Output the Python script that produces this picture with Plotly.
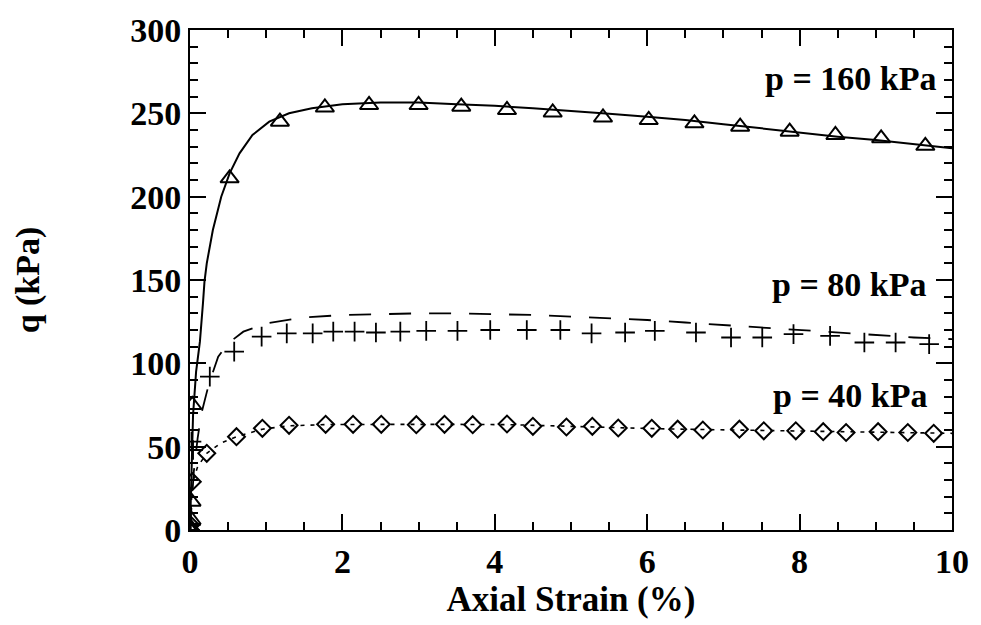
import plotly.graph_objects as go

# ---- data ----
# p = 160 kPa : measured (triangles) and model curve (solid)
tri_x = [0.0, 0.0, 0.02, 0.02, 0.03, 0.52, 1.18, 1.77, 2.35, 3.0, 3.56, 4.16, 4.76, 5.42,
         6.02, 6.62, 7.22, 7.87, 8.47, 9.07, 9.65]
tri_q = [0, 2, 6, 17, 75, 211, 245, 253.5, 255, 255, 254, 252, 250.5, 247.5,
         246, 244, 242, 239, 237, 235, 230.5]
c160_x = [0, 0.02, 0.04, 0.08, 0.13, 0.17, 0.19, 0.22, 0.3, 0.41, 0.52, 0.65, 0.82, 1.04, 1.3,
          1.6, 2.0, 2.5, 3.0, 3.5, 4.0, 4.5, 5.0, 5.5, 6.0, 6.5, 7.0, 7.5, 8.0, 8.5, 9.0, 9.5, 10.0]
c160_q = [0, 40, 69, 95, 113, 136, 149, 160, 180, 200, 214, 226, 237, 245, 250,
          253, 255.5, 256.5, 256.5, 255.5, 254.5, 253, 251.5, 249.8, 248, 246, 243.5, 241, 238.5,
          236, 234, 231.5, 229]

# p = 80 kPa : measured (plus) and model curve (dashed)
plus_x = [0.0, 0.01, 0.02, 0.04, 0.26, 0.58, 0.94, 1.27, 1.61, 1.88, 2.16, 2.44, 2.76, 3.10,
          3.51, 3.94, 4.42, 4.86, 5.27, 5.71, 6.10, 6.64, 7.10, 7.51, 7.92, 8.40, 8.85, 9.26, 9.70]
plus_q = [0, 3, 53, 48, 92, 107, 116, 118, 118, 119, 119, 118.5, 119, 119.5,
          119.5, 120, 120, 120, 118, 118.5, 119.5, 118.5, 115.5, 115.5, 117.5, 116.5, 112.5,
          112.5, 111.5]
c80_x = [0, 0.05, 0.1, 0.15, 0.25, 0.37, 0.5, 0.7, 1.0, 1.5, 2.0, 2.5, 3.0, 3.5, 4.0, 4.5,
         5.0, 5.5, 6.0, 6.5, 7.0, 7.5, 8.0, 8.5, 9.0, 9.5, 10.0]
c80_q = [0, 35, 55, 70, 88, 104, 112, 119, 124, 127.5, 129, 129.5, 130, 130, 129.5, 129,
         128, 127, 126, 124.5, 123, 121.5, 120, 118.5, 117, 115.5, 114.5]

# p = 40 kPa : measured (diamonds) and model curve (dotted)
dia_x = [0.0, 0.01, 0.03, 0.22, 0.61, 0.95, 1.30, 1.78, 2.14, 2.51, 2.97, 3.34, 3.71, 4.16,
         4.50, 4.94, 5.28, 5.62, 6.06, 6.40, 6.73, 7.21, 7.53, 7.95, 8.31, 8.61, 9.03, 9.42, 9.76]
dia_q = [0, 3, 29, 46, 56, 61, 62.8, 63.4, 63.4, 63.4, 63.2, 63.4, 63.2, 63.6,
         62.2, 61.8, 62.2, 61.2, 61, 60.5, 60, 60.5, 59.5, 59.5, 59, 58.5, 59, 58.5, 58]
c40_x = [0, 0.03, 0.1, 0.22, 0.4, 0.61, 0.95, 1.3, 1.8, 2.5, 3.3, 4.2, 5.0, 5.6, 6.1, 6.7,
         7.2, 7.9, 8.6, 9.0, 9.4, 10.0]
c40_q = [0, 28, 38, 46, 52, 56, 60.5, 62.5, 63.3, 63.4, 63.4, 63.2, 62, 61.2, 60.8, 60.3,
         60, 59.5, 59, 58.8, 58.5, 58]

labels = ["p = 160 kPa", "p = 80 kPa", "p = 40 kPa"]
label_x = [9.82, 9.68, 9.70]
label_q = [271, 147.5, 81]

x_ticks = [0, 2, 4, 6, 8, 10]
y_ticks = [0, 50, 100, 150, 200, 250, 300]

FONT = "Liberation Serif"
BLACK = "black"

fig = go.Figure()

fig.add_trace(go.Scatter(x=c160_x, y=c160_q, mode="lines",
                         line=dict(color=BLACK, width=2), showlegend=False))
fig.add_trace(go.Scatter(x=c80_x, y=c80_q, mode="lines",
                         line=dict(color=BLACK, width=1.8, dash="22px,18px"), showlegend=False))
fig.add_trace(go.Scatter(x=c40_x, y=c40_q, mode="lines",
                         line=dict(color=BLACK, width=1.6, dash="4px,6px"), showlegend=False))

fig.add_trace(go.Scatter(x=tri_x, y=tri_q, mode="markers", showlegend=False,
                         marker=dict(symbol="triangle-up-open", size=16, color=BLACK,
                                     line=dict(color=BLACK, width=2))))
fig.add_trace(go.Scatter(x=plus_x, y=plus_q, mode="markers", showlegend=False,
                         marker=dict(symbol="cross-thin", size=14, color=BLACK,
                                     line=dict(color=BLACK, width=1.8))))
fig.add_trace(go.Scatter(x=dia_x, y=dia_q, mode="markers", showlegend=False,
                         marker=dict(symbol="diamond-open", size=13, color=BLACK,
                                     line=dict(color=BLACK, width=2))))

for t, xx, yy in zip(labels, label_x, label_q):
    fig.add_annotation(x=xx, y=yy, text="<b>%s</b>" % t, showarrow=False,
                       xanchor="right", yanchor="middle",
                       font=dict(family=FONT, size=34, color=BLACK))

axis_common = dict(showgrid=False, zeroline=False, showline=True, linecolor=BLACK,
                   linewidth=2, mirror="ticks", ticks="inside", tickcolor=BLACK,
                   tickwidth=2, ticklen=16,
                   tickfont=dict(family=FONT, size=34, color=BLACK, weight="bold"))

fig.update_xaxes(range=[0, 10], tickvals=x_ticks, ticktext=[str(v) for v in x_ticks],
                 minor=dict(tickvals=[v * 0.5 for v in range(21)], ticks="inside", ticklen=8,
                            tickcolor=BLACK, tickwidth=1.5),
                 title=dict(text="<b>Axial Strain (%)</b>", standoff=6,
                            font=dict(family=FONT, size=35, color=BLACK)),
                 **axis_common)
fig.update_yaxes(range=[0, 300], tickvals=y_ticks, ticktext=[str(v) for v in y_ticks],
                 minor=dict(tickvals=list(range(0, 301, 10)), ticks="inside", ticklen=8,
                            tickcolor=BLACK, tickwidth=1.5),
                 title=dict(text="<b>q (kPa)</b>", standoff=80,
                            font=dict(family=FONT, size=34, color=BLACK)),
                 **axis_common)

fig.update_layout(width=981, height=625, margin=dict(l=190, r=21, t=24, b=95),
                  paper_bgcolor="white", plot_bgcolor="white")

fig.write_html("out.html")
